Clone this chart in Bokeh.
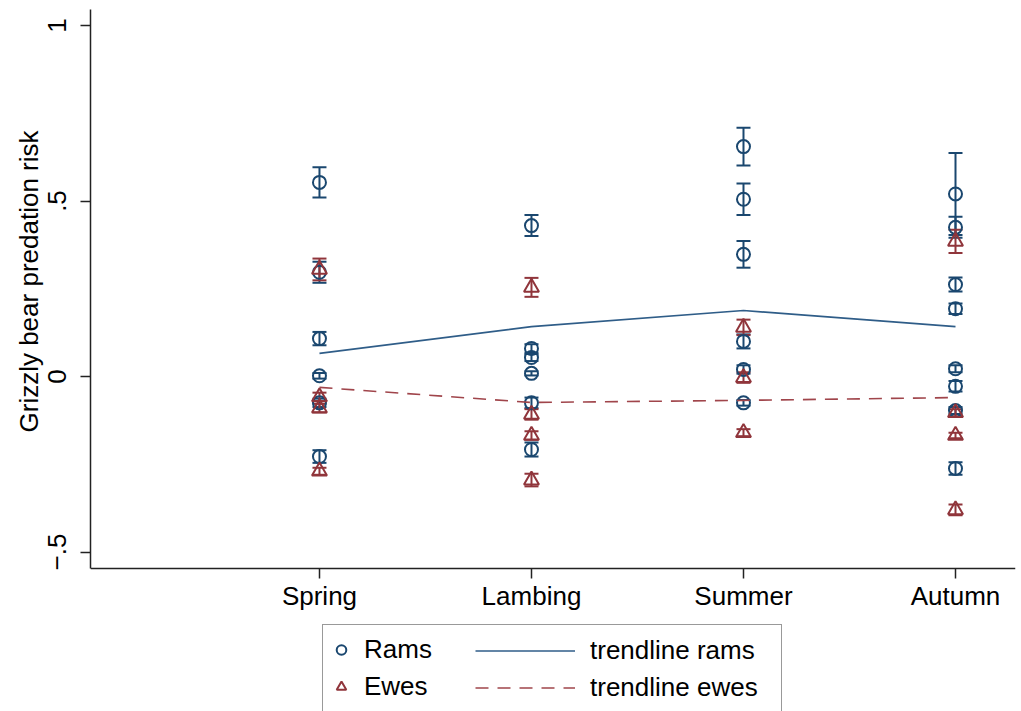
from bokeh.plotting import figure
from bokeh.models import (ColumnDataSource, Range1d, FixedTicker, Whisker, TeeHead,
                          Legend, LegendItem, Title)
from bokeh.embed import file_html
from bokeh.resources import INLINE

# ---------------- data ----------------
seasons = ["Spring", "Lambing", "Summer", "Autumn"]

rams_spring = [0.553, 0.297, 0.108, 0.002, -0.075, -0.228]
rams_spring_err = [0.043, 0.03, 0.019, 0.008, 0.012, 0.018]
rams_lambing = [0.43, 0.08, 0.054, 0.009, -0.075, -0.208]
rams_lambing_err = [0.03, 0.012, 0.01, 0.006, 0.015, 0.02]
rams_summer = [0.655, 0.505, 0.348, 0.10, 0.02, -0.075]
rams_summer_err = [0.054, 0.045, 0.038, 0.02, 0.012, 0.008]
rams_autumn = [0.52, 0.425, 0.262, 0.193, 0.022, -0.028, -0.097, -0.262]
rams_autumn_err = [0.117, 0.03, 0.02, 0.015, 0.01, 0.015, 0.01, 0.018]

ewes_spring = [0.305, -0.058, -0.09, -0.27]
ewes_spring_err = [0.031, 0.012, 0.012, 0.01]
ewes_lambing = [0.254, -0.108, -0.168, -0.295]
ewes_lambing_err = [0.027, 0.015, 0.012, 0.018]
ewes_summer = [0.14, -0.003, -0.16]
ewes_summer_err = [0.022, 0.015, 0.01]
ewes_autumn = [0.385, -0.103, -0.168, -0.38]
ewes_autumn_err = [0.033, 0.01, 0.008, 0.015]

trend_rams = [0.066, 0.142, 0.188, 0.142]
trend_ewes = [-0.031, -0.074, -0.068, -0.060]

y_ticks = [-0.5, 0, 0.5, 1]
y_tick_labels = ["\u2212.5", "0", ".5", "1"]
y_axis_min = -0.547
y_title = "Grizzly bear predation risk"

NAVY = "#1a476f"
MAROON = "#90353b"
FONT = "Liberation Sans"


def build(groups):
    xs, ys, lo, hi = [], [], [], []
    for i, (vals, errs) in enumerate(groups):
        for v, e in zip(vals, errs):
            xs.append(i + 1)
            ys.append(v)
            lo.append(v - e)
            hi.append(v + e)
    return ColumnDataSource(dict(x=xs, y=ys, lower=lo, upper=hi))


rams_src = build([(rams_spring, rams_spring_err), (rams_lambing, rams_lambing_err),
                  (rams_summer, rams_summer_err), (rams_autumn, rams_autumn_err)])
ewes_src = build([(ewes_spring, ewes_spring_err), (ewes_lambing, ewes_lambing_err),
                  (ewes_summer, ewes_summer_err), (ewes_autumn, ewes_autumn_err)])
season_x = [i + 1 for i in range(len(seasons))]

# ---------------- figure ----------------
p = figure(width=1021, height=711, output_backend="svg", toolbar_location=None,
           x_range=Range1d(-0.080, 4.283), y_range=Range1d(-0.9544, 1.0456),
           min_border_left=90, min_border_right=6, min_border_top=9, min_border_bottom=0)
p.outline_line_color = None
p.grid.visible = False
p.background_fill_color = "white"
p.border_fill_color = "white"

# rams
p.add_layout(Whisker(source=rams_src, base="x", lower="lower", upper="upper",
                     dimension="height", line_color=NAVY, line_width=2,
                     upper_head=TeeHead(size=14, line_color=NAVY, line_width=2),
                     lower_head=TeeHead(size=14, line_color=NAVY, line_width=2)))
r_rams = p.scatter("x", "y", source=rams_src, marker="circle", size=13,
                   fill_color=None, line_color=NAVY, line_width=2)
# ewes
p.add_layout(Whisker(source=ewes_src, base="x", lower="lower", upper="upper",
                     dimension="height", line_color=MAROON, line_width=2,
                     upper_head=TeeHead(size=14, line_color=MAROON, line_width=2),
                     lower_head=TeeHead(size=14, line_color=MAROON, line_width=2)))
r_ewes = p.scatter("x", "y", source=ewes_src, marker="triangle", size=15,
                   fill_color=None, line_color=MAROON, line_width=2)

# trendlines
r_tr = p.line(season_x, trend_rams, line_color="#2f5d88", line_width=1.6)
r_te = p.line(season_x, trend_ewes, line_color="#a0454b", line_width=1.6,
              line_dash="13 9")

# ---------------- axes ----------------
p.xaxis.ticker = FixedTicker(ticks=season_x, minor_ticks=[])
p.xaxis.major_label_overrides = {i + 1: s for i, s in enumerate(seasons)}
p.xaxis.fixed_location = y_axis_min
p.yaxis.ticker = FixedTicker(ticks=y_ticks, minor_ticks=[])
p.yaxis.major_label_overrides = dict(zip(y_ticks, y_tick_labels))
p.yaxis.major_label_orientation = "vertical"
p.yaxis.bounds = (y_axis_min, 1.0456)

for ax in (p.xaxis, p.yaxis):
    ax.axis_line_color = "#222222"
    ax.axis_line_width = 1.5
    ax.major_tick_line_color = "#222222"
    ax.major_tick_line_width = 1.5
    ax.major_tick_out = 10
    ax.major_tick_in = 0
    ax.minor_tick_out = 0
    ax.major_label_text_font = FONT
    ax.major_label_text_font_size = "26px"
    ax.major_label_text_color = "black"
p.xaxis.major_label_standoff = 2
p.yaxis.major_label_standoff = 14

# y-axis title, placed along the drawn axis extent
ytitle = Title(text=y_title, align="left", offset=279, standoff=4,
               text_font=FONT, text_font_size="26px", text_font_style="normal",
               text_color="black")
p.add_layout(ytitle, "left")

# ---------------- legend ----------------
common = dict(orientation="vertical", padding=6, margin=0, spacing=0,
              glyph_height=37, label_height=37,
              label_text_font=FONT, label_text_font_size="26px",
              label_text_color="black")
legA = Legend(items=[LegendItem(label="Rams", renderers=[r_rams]),
                     LegendItem(label="Ewes", renderers=[r_ewes])],
              location=(232, -1), glyph_width=24, label_standoff=11, label_width=411,
              border_line_color="#333333", border_line_width=1.5,
              background_fill_color="white", background_fill_alpha=1.0, **common)
legB = Legend(items=[LegendItem(label="trendline rams", renderers=[r_tr]),
                     LegendItem(label="trendline ewes", renderers=[r_te])],
              location=(379, -1), glyph_width=100, label_standoff=15,
              border_line_alpha=0, background_fill_alpha=0, **common)
p.add_layout(legA)
p.add_layout(legB)

open("out.html", "w").write(file_html(p, INLINE))
